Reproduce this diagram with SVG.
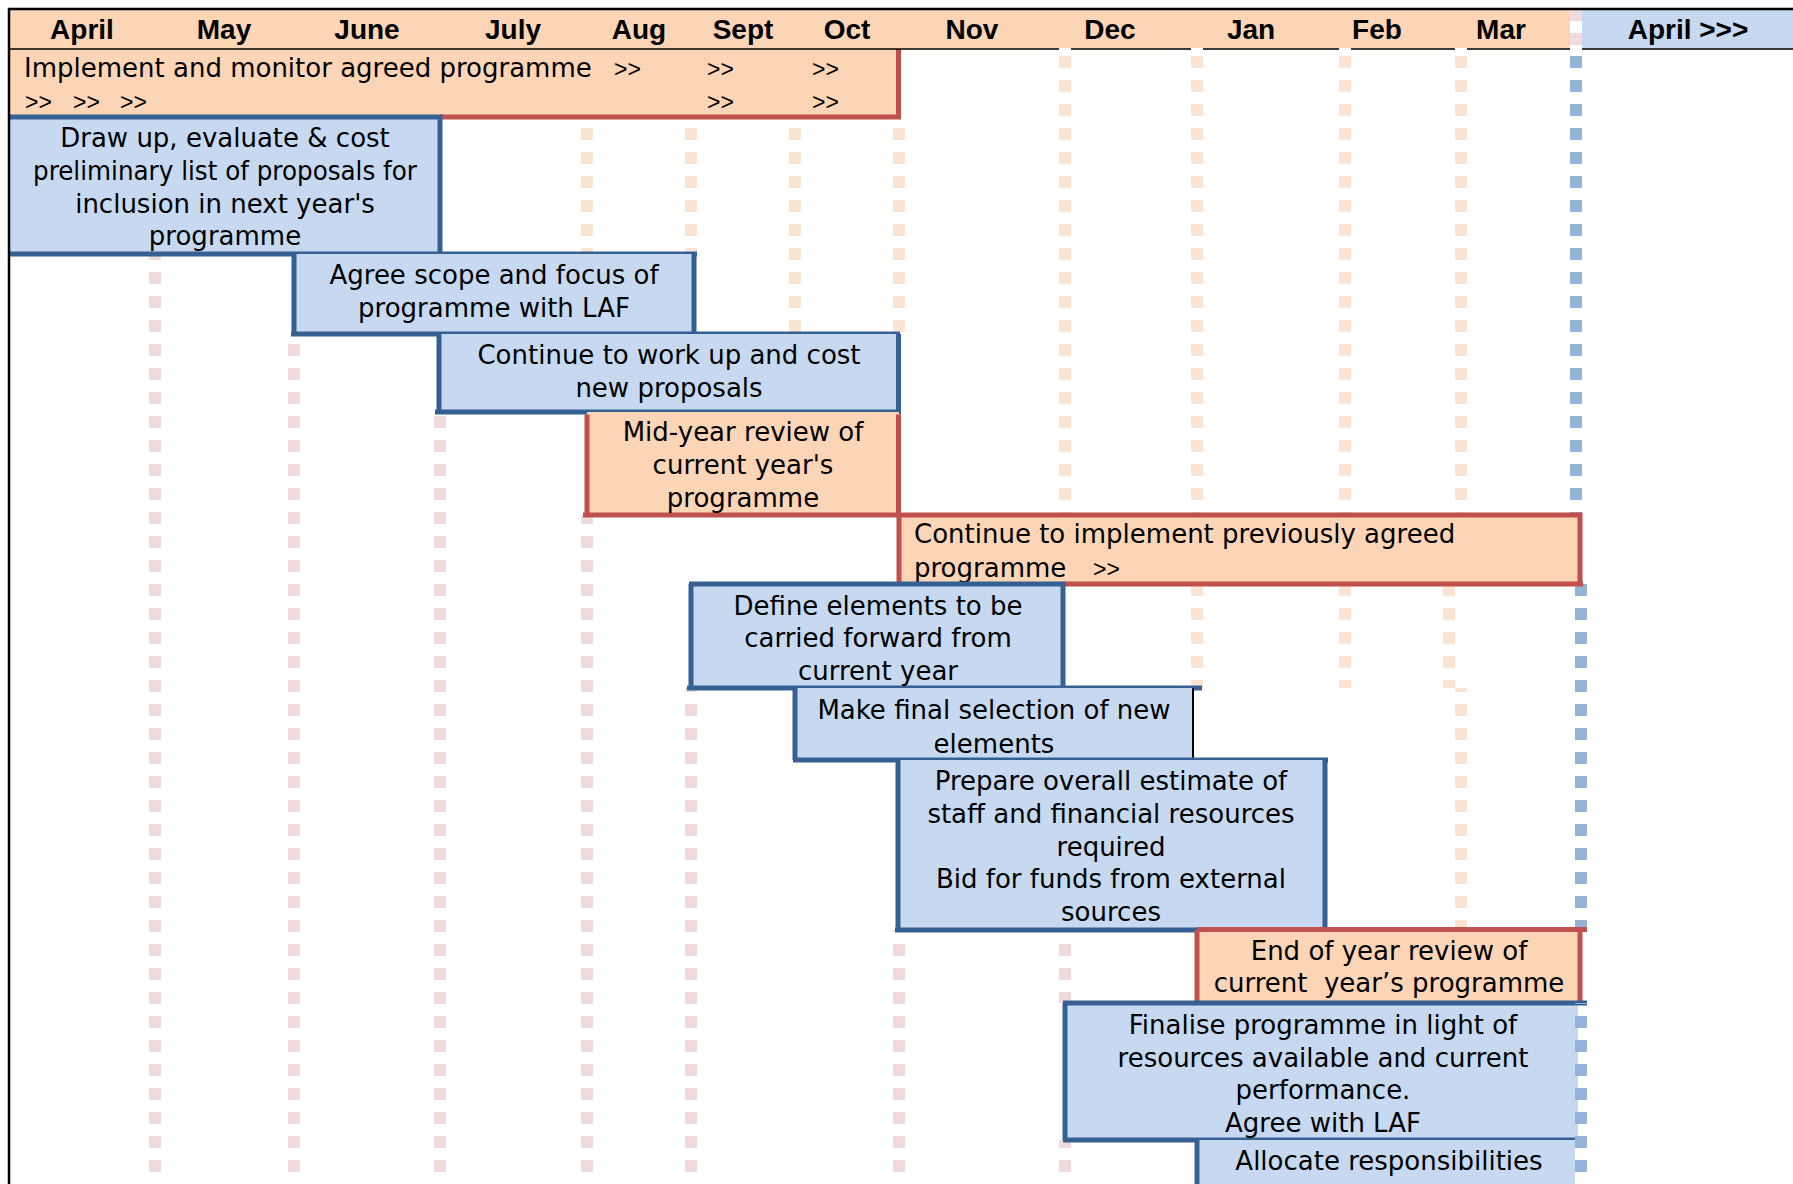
<svg xmlns="http://www.w3.org/2000/svg" width="1793" height="1184" viewBox="0 0 1793 1184">
<style>
.col{stroke-width:12;stroke-dasharray:12 12;fill:none}
.pk{stroke:#F0DADB}
.pc{stroke:#FCE4D3}
.bl{stroke:#95B3D7}
.fb{fill:#C6D9F1}
.fp{fill:#FBD5B5}
.eb{stroke:#366092;stroke-width:5;fill:none}
.er{stroke:#C0504D;stroke-width:5;fill:none}
.t{font-family:"DejaVu Sans",sans-serif;font-size:26px;fill:#000;white-space:pre}
.c{text-anchor:middle}
.g{font-family:"Liberation Sans",Arial,sans-serif;font-size:23px;fill:#000}
.m{font-family:"Liberation Sans",Arial,sans-serif;font-weight:bold;font-size:28px;text-anchor:middle;fill:#000}
</style>
<rect width="1793" height="1184" fill="#fff"/>
<g id="header">
<rect x="9" y="9" width="1573" height="40" class="fp"/>
<rect x="1582" y="9" width="211" height="40" class="fb"/>
<rect x="1570" y="9" width="12" height="40" fill="#fff"/>
<line x1="1576" y1="9" x2="1576" y2="49" class="col pk" stroke-dashoffset="0"/>
<text class="m" x="82" y="39">April</text>
<text class="m" x="224" y="39">May</text>
<text class="m" x="367" y="39">June</text>
<text class="m" x="513" y="39">July</text>
<text class="m" x="639" y="39">Aug</text>
<text class="m" x="743" y="39">Sept</text>
<text class="m" x="847" y="39">Oct</text>
<text class="m" x="972" y="39">Nov</text>
<text class="m" x="1110" y="39">Dec</text>
<text class="m" x="1251" y="39">Jan</text>
<text class="m" x="1377" y="39">Feb</text>
<text class="m" x="1501" y="39">Mar</text>
<text class="m" x="1688" y="39">April &gt;&gt;&gt;</text>
</g>
<g id="grid">
<line x1="155" y1="255" x2="155" y2="1184" class="col pk" stroke-dashoffset="7"/>
<line x1="294" y1="334" x2="294" y2="1184" class="col pk" stroke-dashoffset="14"/>
<line x1="440" y1="412" x2="440" y2="1184" class="col pk" stroke-dashoffset="20"/>
<line x1="587" y1="117" x2="587" y2="254" class="col pc" stroke-dashoffset="13"/>
<line x1="587" y1="515" x2="587" y2="1184" class="col pk" stroke-dashoffset="3"/>
<line x1="691" y1="117" x2="691" y2="254" class="col pc" stroke-dashoffset="13"/>
<line x1="691" y1="688" x2="691" y2="1184" class="col pk" stroke-dashoffset="8"/>
<line x1="795" y1="117" x2="795" y2="334" class="col pc" stroke-dashoffset="13"/>
<line x1="899" y1="117" x2="899" y2="334" class="col pc" stroke-dashoffset="13"/>
<line x1="899" y1="930" x2="899" y2="1184" class="col pk" stroke-dashoffset="10"/>
<line x1="1065" y1="49" x2="1065" y2="515" class="col pc" stroke-dashoffset="17"/>
<line x1="1065" y1="930" x2="1065" y2="1003" class="col pk" stroke-dashoffset="10"/>
<line x1="1065" y1="1140" x2="1065" y2="1184" class="col pk" stroke-dashoffset="4"/>
<line x1="1197" y1="49" x2="1197" y2="515" class="col pc" stroke-dashoffset="17"/>
<line x1="1197" y1="584" x2="1197" y2="688" class="col pc" stroke-dashoffset="0"/>
<line x1="1345" y1="49" x2="1345" y2="515" class="col pc" stroke-dashoffset="17"/>
<line x1="1345" y1="584" x2="1345" y2="688" class="col pc" stroke-dashoffset="0"/>
<line x1="1461" y1="49" x2="1461" y2="515" class="col pc" stroke-dashoffset="17"/>
<line x1="1449" y1="584" x2="1449" y2="688" class="col pc" stroke-dashoffset="0"/>
<line x1="1461" y1="688" x2="1461" y2="930" class="col pc" stroke-dashoffset="8"/>
<line x1="1576" y1="49" x2="1576" y2="515" class="col bl" stroke-dashoffset="17"/>
<line x1="1581" y1="584" x2="1581" y2="930" class="col bl" stroke-dashoffset="0"/>
</g>
<g id="connectors"></g>
<g id="n1">
<rect x="10" y="49" width="889" height="68" class="fp"/>
<path d="M898.5 49V119.5M440 117H901" class="er"/>
<text class="t" x="24" y="77">Implement and monitor agreed programme</text>
<text class="g" x="614" y="77">&gt;&gt;</text>
<text class="g" x="707" y="77">&gt;&gt;</text>
<text class="g" x="812" y="77">&gt;&gt;</text>
<text class="g" x="25" y="110">&gt;&gt;</text>
<text class="g" x="73" y="110">&gt;&gt;</text>
<text class="g" x="120" y="110">&gt;&gt;</text>
<text class="g" x="707" y="110">&gt;&gt;</text>
<text class="g" x="812" y="110">&gt;&gt;</text>
</g>
<g id="n2">
<rect x="10" y="117" width="430" height="137" class="fb"/>
<path d="M10 117H442.5M440 117V254M10 254H697" class="eb"/>
<text class="t c" x="225" y="147">Draw up, evaluate &amp; cost</text>
<text class="t c" x="225" y="180" textLength="384" lengthAdjust="spacingAndGlyphs">preliminary list of proposals for</text>
<text class="t c" x="225" y="213">inclusion in next year's</text>
<text class="t c" x="225" y="245">programme</text>
</g>
<g id="n3">
<rect x="294" y="254" width="400" height="80" class="fb"/>
<path d="M294 254V334M694 254V334M291 334H900" class="eb"/>
<text class="t c" x="494" y="284">Agree scope and focus of</text>
<text class="t c" x="494" y="317">programme with LAF</text>
</g>
<g id="n4">
<rect x="439" y="334" width="460" height="78" class="fb"/>
<path d="M439 334V412M898.5 334V412M435 412H901" class="eb"/>
<text class="t c" x="669" y="364">Continue to work up and cost</text>
<text class="t c" x="669" y="397">new proposals</text>
</g>
<g id="n5">
<rect x="587" y="412" width="312" height="103" class="fp"/>
<path d="M587 414.5V515M898.5 414.5V515M583 515H901" class="er"/>
<text class="t c" x="743" y="441">Mid-year review of</text>
<text class="t c" x="743" y="474">current year's</text>
<text class="t c" x="743" y="507">programme</text>
</g>
<g id="n6">
<rect x="899" y="515" width="682" height="69" class="fp"/>
<path d="M897 515H1582.5M899 515V584M1580 515V584M1063 584H1583" class="er"/>
<text class="t" x="914" y="543">Continue to implement previously agreed</text>
<text class="t" x="914" y="577">programme</text>
<text class="g" x="1093" y="577">&gt;&gt;</text>
</g>
<g id="n7">
<rect x="691" y="584" width="373" height="104" class="fb"/>
<path d="M689 584H1065.5M691 584V688M1063 584V688M687 688H1202" class="eb"/>
<text class="t c" x="878" y="615">Define elements to be</text>
<text class="t c" x="878" y="647">carried forward from</text>
<text class="t c" x="878" y="680">current year</text>
</g>
<g id="n8">
<rect x="795" y="688" width="398" height="72" class="fb"/>
<path d="M1193 688V760" stroke="#000" stroke-width="2"/>
<path d="M795 688V760M793 760H1328" class="eb"/>
<text class="t c" x="994" y="719">Make final selection of new</text>
<text class="t c" x="994" y="753">elements</text>
</g>
<g id="n9">
<rect x="898" y="760" width="427" height="170" class="fb"/>
<path d="M898 760V930M1325 760V932.5M895 930H1327" class="eb"/>
<text class="t c" x="1111" y="790">Prepare overall estimate of</text>
<text class="t c" x="1111" y="823">staff and financial resources</text>
<text class="t c" x="1111" y="856">required</text>
<text class="t c" x="1111" y="888">Bid for funds from external</text>
<text class="t c" x="1111" y="921">sources</text>
</g>
<g id="n10">
<rect x="1197" y="930" width="383" height="73" class="fp"/>
<path d="M1197 929.5H1587M1197 930V1003M1580 930V1003" class="er"/>
<text class="t c" x="1389" y="960">End of year review of</text>
<text class="t c" x="1389" y="992">current  year’s programme</text>
</g>
<g id="n11">
<rect x="1065" y="1003" width="513" height="137" class="fb"/>
<path d="M1063 1003H1587M1065 1003V1140M1063 1140H1575" class="eb"/>
<text class="t c" x="1323" y="1034">Finalise programme in light of</text>
<text class="t c" x="1323" y="1067">resources available and current</text>
<text class="t c" x="1323" y="1099">performance.</text>
<text class="t c" x="1323" y="1132">Agree with LAF</text>
</g>
<g id="n12">
<rect x="1197" y="1140" width="378" height="44" class="fb"/>
<path d="M1197 1140V1184" class="eb"/>
<text class="t c" x="1389" y="1170">Allocate responsibilities</text>
</g>
<g id="overlay">
<line x1="1581" y1="1003" x2="1581" y2="1184" class="col bl" stroke-dashoffset="11"/>
</g>
<g id="frame">
<line x1="9" y1="49" x2="1793" y2="49" stroke="#000" stroke-width="1.5"/>
<rect x="1059" y="48" width="12" height="2" fill="#fff"/>
<rect x="1191" y="48" width="12" height="2" fill="#fff"/>
<rect x="1339" y="48" width="12" height="2" fill="#fff"/>
<rect x="1455" y="48" width="12" height="2" fill="#fff"/>
<rect x="1570" y="48" width="12" height="2" fill="#fff"/>
<line x1="8" y1="9" x2="1793" y2="9" stroke="#000" stroke-width="2.5"/>
<line x1="9" y1="8" x2="9" y2="1184" stroke="#000" stroke-width="2.5"/>
</g>
</svg>
